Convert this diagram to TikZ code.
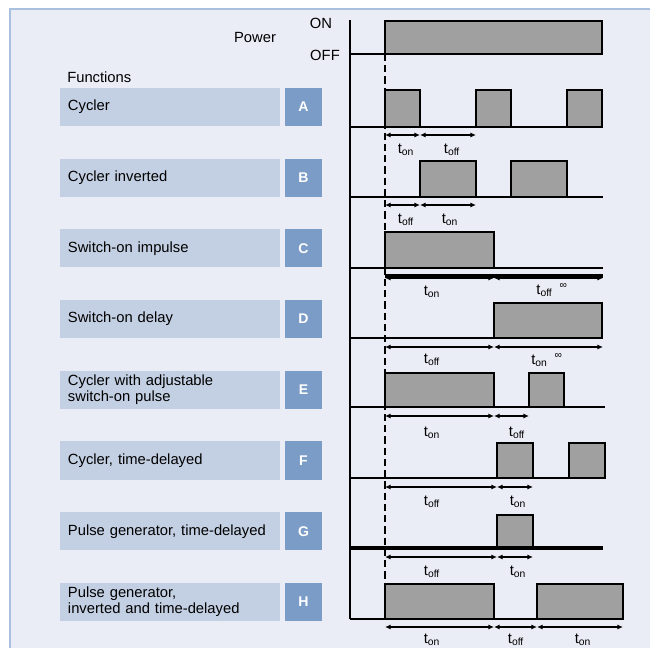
\documentclass[tikz,border=0pt]{standalone}
\usepackage{fontspec}
\setmainfont{Liberation Sans}
\usepackage{xcolor}
\usepackage{tikz}
\usetikzlibrary{arrows.meta}
\definecolor{bg}{HTML}{EBEDF6}
\definecolor{frame}{HTML}{A9C0DE}
\definecolor{fnfill}{HTML}{C3CFE2}
\definecolor{letfill}{HTML}{7A9CC6}
\definecolor{pulsefill}{HTML}{A0A0A0}
\tikzset{
  axis/.style={draw=black, line width=1.1pt},
  thickbase/.style={draw=black, line width=2.6pt},
  pulse/.style={draw=black, fill=pulsefill, line width=1.1pt},
  startline/.style={draw=black, line width=0.9pt, dash pattern=on 5pt off 3pt},
  dim/.style={draw=black, line width=0.8pt, {Latex[length=4pt,width=3.6pt]}-{Latex[length=4pt,width=3.6pt]}},
  fnbox/.style={fill=fnfill, text width=5.1cm, minimum height=0.95cm, align=left, inner xsep=0.2cm, inner ysep=0pt, font=\fontsize{10.5}{11.5}\selectfont},
  letbox/.style={fill=letfill, text=white, minimum width=0.925cm, minimum height=0.95cm, inner sep=0pt, font=\bfseries\fontsize{10}{12}\selectfont},
  lab/.style={font=\fontsize{10.5}{12}\selectfont, inner sep=0pt},
  tlab/.style={font=\fontsize{10.5}{12}\selectfont, inner sep=0pt}
}

\begin{document}
\begin{tikzpicture}[x=0.025cm, y=-0.025cm]
  \useasboundingbox (0,0) rectangle (650,648);
  \fill[white] (0,0) rectangle (650,648);
  \fill[bg] (10,9) rectangle (650,648);
  \draw[frame, line width=1.5pt] (10,648) -- (10,9) -- (650,9);

  % functions column
  \node[lab, anchor=west] (functions) at (67,77) {Functions};
  \foreach \n/\k/\txt in {0/A/Cycler, 1/B/Cycler inverted, 2/C/Switch-on impulse,
      3/D/Switch-on delay, 4/E/{Cycler with adjustable\\switch-on pulse},
      5/F/{Cycler, time-delayed}, 6/G/{Pulse generator, time-delayed},
      7/H/{Pulse generator,\\inverted and time-delayed}}{
    \node[fnbox] (fn\k) at (170,107+70.7*\n) {\txt};
    \node[letbox] (let\k) at (303.5,107+70.7*\n) {\k};
  }

  % power
  \node[lab] (power) at (255,37) {Power};
  \node[lab] (on) at (321,23) {ON};
  \node[lab] (off) at (325,55) {OFF};
  \draw[axis] (350,20) -- (350,619);
  \draw[axis] (350,54) -- (385,54);
  \draw[pulse] (385,21) rectangle (602,54);
  \draw[startline] (385,54) -- (385,584);

  % A
  \begin{scope}[shift={(0,127)}]
    \draw[pulse] (385,0) rectangle (420,-37);
    \draw[pulse] (476,0) rectangle (511,-37);
    \draw[pulse] (567,0) rectangle (602,-37);
    \draw[axis] (350,0) -- (602,0);
    \draw[dim] (385,8) -- (420,8);
    \draw[dim] (420,8) -- (476,8);
    \node[tlab] (tonA) at (406,23) {t\textsubscript{on}};
    \node[tlab] (toffA) at (452,23) {t\textsubscript{off}};
  \end{scope}

  % B
  \begin{scope}[shift={(0,197)}]
    \draw[pulse] (420,0) rectangle (476,-36);
    \draw[pulse] (511,0) rectangle (567,-36);
    \draw[axis] (350,0) -- (603,0);
    \draw[dim] (385,8) -- (420,8);
    \draw[dim] (420,8) -- (476,8);
    \node[tlab] (toffB) at (406,23) {t\textsubscript{off}};
    \node[tlab] (tonB) at (450,23) {t\textsubscript{on}};
  \end{scope}

  % C
  \begin{scope}[shift={(0,268)}]
    \draw[pulse] (385,0) rectangle (494,-36);
    \draw[axis] (350,0) -- (603,0);
    \draw[thickbase] (385,8) -- (603,8);
    \draw[dim] (385,10) -- (494,10);
    \draw[dim] (494,10) -- (603,10);
    \node[tlab] (tonC) at (432,24) {t\textsubscript{on}};
    \node[tlab] (toffC) at (552,22) {t\textsubscript{off}\hspace{5pt}\textsuperscript{∞}};
  \end{scope}

  % D
  \begin{scope}[shift={(0,338)}]
    \draw[pulse] (494,0) rectangle (602,-35);
    \draw[axis] (350,0) -- (603,0);
    \draw[dim] (385,9) -- (494,9);
    \draw[dim] (494,9) -- (603,9);
    \node[tlab] (toffD) at (432,22) {t\textsubscript{off}};
    \node[tlab] (tonD) at (547,22) {t\textsubscript{on}\hspace{5pt}\textsuperscript{∞}};
  \end{scope}

  % E
  \begin{scope}[shift={(0,407)}]
    \draw[pulse] (385,0) rectangle (494,-34);
    \draw[pulse] (529,0) rectangle (564,-34);
    \draw[axis] (350,0) -- (605,0);
    \draw[dim] (385,9) -- (494,9);
    \draw[dim] (494,9) -- (529,9);
    \node[tlab] (tonE) at (432,26) {t\textsubscript{on}};
    \node[tlab] (toffE) at (517,26) {t\textsubscript{off}};
  \end{scope}

  % F
  \begin{scope}[shift={(0,478)}]
    \draw[pulse] (497,0) rectangle (533,-35);
    \draw[pulse] (569,0) rectangle (605,-35);
    \draw[axis] (350,0) -- (605,0);
    \draw[dim] (385,9) -- (497,9);
    \draw[dim] (497,9) -- (533,9);
    \node[tlab] (toffF) at (432,24) {t\textsubscript{off}};
    \node[tlab] (tonF) at (518,24) {t\textsubscript{on}};
  \end{scope}

  % G
  \begin{scope}[shift={(0,548)}]
    \draw[pulse] (497,0) rectangle (533,-33);
    \draw[thickbase] (350,0) -- (603,0);
    \draw[dim] (385,9) -- (497,9);
    \draw[dim] (497,9) -- (533,9);
    \node[tlab] (toffG) at (432,24) {t\textsubscript{off}};
    \node[tlab] (tonG) at (518,24) {t\textsubscript{on}};
  \end{scope}

  % H
  \begin{scope}[shift={(0,619)}]
    \draw[pulse] (385,0) rectangle (494,-35);
    \draw[pulse] (537,0) rectangle (623,-35);
    \draw[axis] (350,0) -- (623,0);
    \draw[dim] (385,8) -- (494,8);
    \draw[dim] (494,8) -- (537,8);
    \draw[dim] (537,8) -- (623,8);
    \node[tlab] (tonH) at (432,21) {t\textsubscript{on}};
    \node[tlab] (toffH) at (516,21) {t\textsubscript{off}};
    \node[tlab] (tonHb) at (583,21) {t\textsubscript{on}};
  \end{scope}
\end{tikzpicture}
\end{document}
